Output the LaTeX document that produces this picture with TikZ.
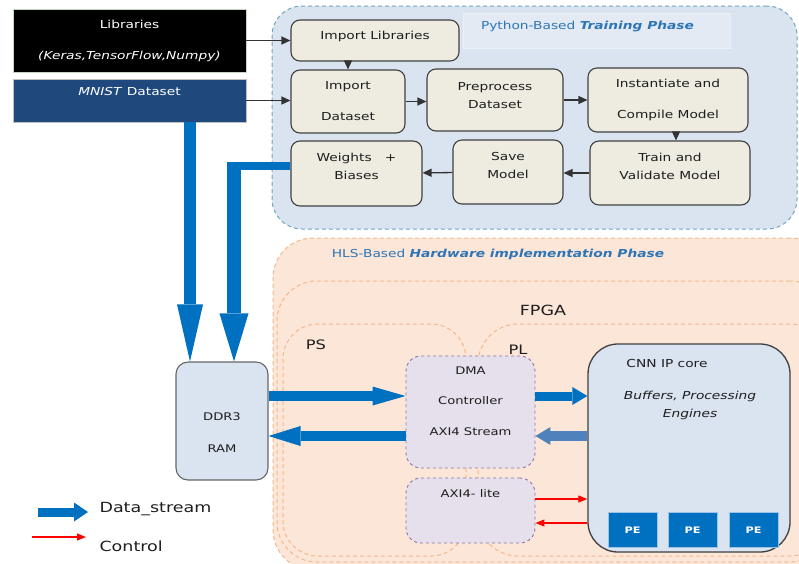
\documentclass[tikz,border=0pt]{standalone}
\usepackage{fontspec}
\setmainfont{DejaVu Sans}[FakeStretch=1.25]
\usetikzlibrary{arrows.meta, positioning, calc}

\definecolor{pyfill}{HTML}{DAE3F0}
\definecolor{pyline}{HTML}{6FA6C0}
\definecolor{hwfill}{HTML}{FCE6D8}
\definecolor{hwline}{HTML}{F4B88C}
\definecolor{boxfill}{HTML}{EEEBE1}
\definecolor{boxline}{HTML}{404040}
\definecolor{textdark}{HTML}{1E1E1E}
\definecolor{titleblue}{HTML}{2E75B6}
\definecolor{mnistblue}{HTML}{1F497D}
\definecolor{ramfill}{HTML}{DAE3F0}
\definecolor{dmafill}{HTML}{E6E0EC}
\definecolor{dmaline}{HTML}{8A72A8}
\definecolor{streamblue}{HTML}{0070C0}
\definecolor{backblue}{HTML}{4F81BD}
\definecolor{peline}{HTML}{9DC3E6}

\begin{document}
\begin{tikzpicture}[
        x=1pt, y=-1pt,
        font=\fontsize{11}{18}\selectfont,
        text=textdark,
        % dashed containers
        region/.style={draw, dashed, line width=1pt, dash pattern=on 4pt off 3pt, inner sep=0pt},
        pyregion/.style={region, draw=pyline, fill=pyfill, rounded corners=30pt},
        hwregion/.style={region, draw=hwline, fill=hwfill, rounded corners=40pt},
        title/.style={text=titleblue, font=\fontsize{11}{13}\selectfont},
        % boxes
        stepbox/.style={draw=boxline, fill=boxfill, line width=1.1pt, rounded corners=9pt, align=center, inner sep=2pt},
        gap/.style={font=\fontsize{11}{31}\selectfont},
        lift/.style={text depth=#1},
        srcbox/.style={line width=0.8pt, align=center, text=white, inner sep=2pt},
        rambox/.style={draw=boxline!80, fill=ramfill, line width=1.1pt, rounded corners=12pt, align=center},
        dmabox/.style={draw=dmaline, fill=dmafill, dashed, line width=0.9pt, rounded corners=15pt, align=center},
        pe/.style={draw=peline, fill=streamblue, line width=1pt, text=white, minimum width=49pt, minimum height=35pt, font=\fontsize{9}{11}\selectfont\bfseries},
        big/.style={font=\fontsize{14}{16}\selectfont},
        % connectors
        flow/.style={draw=black!80, line width=1.3pt, -{Triangle[length=9pt,width=8pt]}},
        control/.style={draw=red, line width=1.1pt, -{Triangle[length=9pt,width=7pt]}},
        stream/.style={draw=streamblue, line width=10pt},
        bighead/.style 2 args={-{Triangle[length=#1,width=#2,line width=0pt]}}
    ]
    \useasboundingbox (0,0) rectangle (799,563);
    \clip (0,0) rectangle (799,563);

    % phase regions
    \node[pyregion, minimum width=525pt, minimum height=223pt] (python) at (534.5,117.5) {};
    \node[fill=pyfill!75!white, draw=pyfill!55!white, minimum width=267pt, minimum height=35pt,
        label={[title, xshift=-9pt, yshift=4pt]center:Python-Based \textbf{\textit{Training Phase}}}] (pytitle) at (596.5,30.5) {};
    \node[hwregion, minimum width=557pt, minimum height=332pt] (hls) at (551.5,404) {};
    \node[title] (hlstitle) at (498,254) {HLS-Based \textbf{\textit{Hardware implementation Phase}}};
    \node[hwregion, minimum width=553pt, minimum height=281pt] (fpga) at (553.5,421.5) {};
    \node[hwregion, rounded corners=35pt, minimum width=183pt, minimum height=232pt] (ps) at (374.5,440) {};
    \node[hwregion, minimum width=352pt, minimum height=232pt] (pl) at (654,440) {};
    \node[big] (fpgalabel) at (543,310) {FPGA};
    \node[font=\fontsize{13}{15}\selectfont] (pslabel) at (316,345) {PS};
    \node[font=\fontsize{13}{15}\selectfont] (pllabel) at (518,350) {PL};

    % sources
    \node[srcbox, fill=black, draw=green!20!gray!40, gap, minimum width=233pt, minimum height=63pt] (libs) at (129.5,40.5) {Libraries\\\textit{(Keras,TensorFlow,Numpy)}};
    \node[srcbox, fill=mnistblue, draw=gray!50, minimum width=233pt, minimum height=43pt,
        label={[text=white, anchor=north, yshift=-5pt]north:{\textit{MNIST} Dataset}}] (mnist) at (129.5,100.5) {};

    % training steps
    \node[stepbox, lift=10.5pt, minimum width=168pt, minimum height=41pt] (imlib) at (375,40.5) {Import Libraries};
    \node[stepbox, gap, minimum width=114pt, minimum height=63pt] (imdata) at (348,101.5) {Import\\Dataset};
    \node[stepbox, lift=10pt, minimum width=136pt, minimum height=62pt] (prep) at (495,100) {Preprocess\\Dataset};
    \node[stepbox, gap, minimum width=160pt, minimum height=64pt] (inst) at (668,100) {Instantiate and\\Compile Model};
    \node[stepbox, lift=12.5pt, minimum width=160pt, minimum height=64pt] (train) at (670,173) {Train and\\Validate Model};
    \node[stepbox, lift=14pt, minimum width=110pt, minimum height=64pt] (save) at (508,172) {Save\\Model};
    \node[stepbox, lift=14pt, minimum width=131pt, minimum height=65pt] (wb) at (356.5,173.5) {Weights~~~+\\Biases};

    % hardware
    \node[rambox, text height=62pt, minimum width=92pt, minimum height=118pt, font=\fontsize{10.5}{32}\selectfont] (ddr) at (222,421) {DDR3\\RAM};
    \node[dmabox, lift=22pt, minimum width=129pt, minimum height=112pt, font=\fontsize{10.5}{30.5}\selectfont] (dma) at (470.5,412) {DMA\\Controller\\AXI4 Stream};
    \node[dmabox, minimum width=129pt, minimum height=65pt,
        label={[anchor=north, yshift=-8pt, font=\fontsize{10.5}{12}\selectfont]north:AXI4- lite}] (lite) at (470.5,510.5) {};
    \node[draw=boxline, fill=ramfill, line width=1.3pt, rounded corners=30pt, minimum width=202pt, minimum height=208pt] (cnn) at (689,448) {};
    \node (cnnname) at (667,363) {CNN IP core};
    \node[align=center, font=\fontsize{11}{18}\selectfont\itshape] (cnnbuf) at (690,405) {Buffers, Processing\\Engines};
    \node[pe] (pe1) at (632.5,530) {PE};
    \node[pe, right=10pt of pe1] (pe2) {PE};
    \node[pe, right=11pt of pe2] (pe3) {PE};

    % training flow
    \draw[flow] (libs) -- (imlib);
    \draw[flow] (mnist.east) -- (mnist.east -| imdata.west);
    \draw[flow] (imlib.south -| imdata) -- (imdata.north);
    \draw[flow] (imdata.east) -- (imdata.east -| prep.west);
    \draw[flow] (prep) -- (inst);
    \draw[flow] ([xshift=8pt]inst.south) -- ([xshift=8pt]inst.south |- train.north);
    \draw[flow] (train.west) -- (train.west -| save.east);
    \draw[flow] (save) -- (wb);

    % data streams into DDR3
    \coordinate (mnistdrop) at (190,0);
    \coordinate (wbturn) at (234,166);
    \draw[stream, line width=12pt, bighead={57pt}{26pt}] (mnist.south -| mnistdrop) -- (ddr.north -| mnistdrop);
    \draw[stream, line width=8pt] (wb.west |- wbturn) -- ([xshift=-7pt]wbturn);
    \draw[stream, line width=14pt, bighead={48pt}{29pt}] (wbturn) -- (wbturn |- ddr.north);

    % data streams in hardware
    \coordinate (sin) at (0,396);
    \coordinate (sout) at (0,436);
    \draw[stream, bighead={33pt}{19pt}] (ddr.east |- sin) -- (dma.west |- sin);
    \draw[stream, bighead={32pt}{20pt}] (dma.west |- sout) -- (ddr.east |- sout);
    \draw[stream, line width=9pt, bighead={15pt}{18pt}] (dma.east |- sin) -- (cnn.west |- sin);
    \draw[stream, draw=backblue, bighead={15pt}{18pt}] (cnn.west |- sout) -- (dma.east |- sout);

    % control
    \coordinate (cin) at (0,499);
    \coordinate (cout) at (0,523);
    \draw[control] (lite.east |- cin) -- (cnn.west |- cin);
    \draw[control] (cnn.west |- cout) -- (lite.east |- cout);

    % legend
    \coordinate (legstream) at (38,512);
    \coordinate (legstreamend) at (88,512);
    \coordinate (legctrl) at (32,537);
    \coordinate (legctrlend) at (86,537);
    \draw[stream, line width=9pt, bighead={14pt}{19pt}] (legstream) -- (legstreamend);
    \draw[control] (legctrl) -- (legctrlend);
    \node[big, anchor=west] (legdata) at (96,509) {Data\_stream};
    \node[big, anchor=west] (legcontrol) at (96,546) {Control};
\end{tikzpicture}
\end{document}
